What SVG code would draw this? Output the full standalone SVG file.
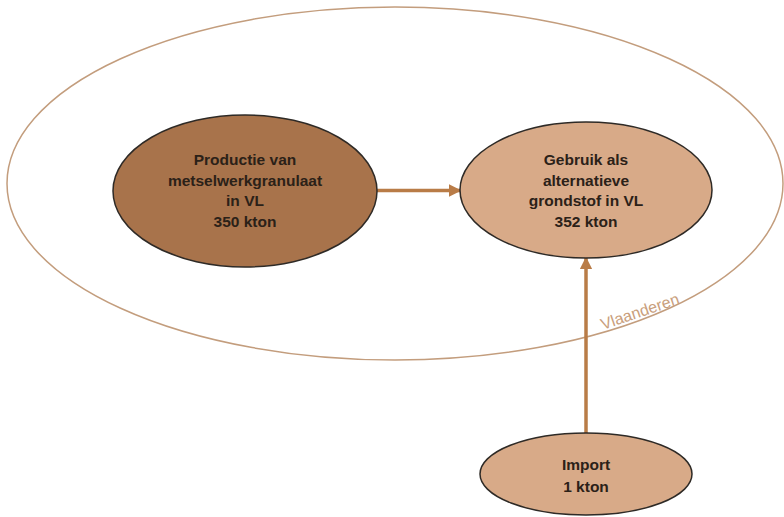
<svg xmlns="http://www.w3.org/2000/svg" width="784" height="517" viewBox="0 0 784 517">
<style>
.node text{font-family:"Liberation Sans",Arial,sans-serif;font-weight:bold;font-size:15.5px;fill:#2b2118;text-anchor:middle}
.lbl{font-family:"Liberation Sans",Arial,sans-serif;font-size:16px;fill:#c99e7c}
.conn line{stroke:#b97c47;stroke-width:3.5;marker-end:url(#ah)}
</style>
<defs>
<marker id="ah" viewBox="0 0 10 10" refX="9" refY="5" markerWidth="3.6" markerHeight="3.6" orient="auto" markerUnits="strokeWidth">
<path d="M0,0 L10,5 L0,10 z" fill="#b97c47"/>
</marker>
</defs>
<rect width="784" height="517" fill="#ffffff"/>
<g id="vlaanderen">
<ellipse cx="395" cy="183.5" rx="388" ry="176.5" fill="none" stroke="#c39d7d" stroke-width="1.5"/>
<text class="lbl" transform="translate(603,330) rotate(-19)">Vlaanderen</text>
</g>
<g class="conn" id="connectors">
<line x1="377" y1="190.5" x2="460" y2="190.5"/>
<line x1="586" y1="433" x2="586" y2="258"/>
</g>
<g class="node" id="productie">
<ellipse cx="245" cy="191" rx="132" ry="76" fill="#a8734b" stroke="#2e2a26" stroke-width="1.5"/>
<text x="245" y="165">Productie van</text>
<text x="245" y="185.5">metselwerkgranulaat</text>
<text x="245" y="206">in VL</text>
<text x="245" y="227">350 kton</text>
</g>
<g class="node" id="gebruik">
<ellipse cx="586" cy="190" rx="126" ry="68" fill="#d8aa88" stroke="#2e2a26" stroke-width="1.5"/>
<text x="586" y="165">Gebruik als</text>
<text x="586" y="185.5">alternatieve</text>
<text x="586" y="206">grondstof in VL</text>
<text x="586" y="227">352 kton</text>
</g>
<g class="node" id="import">
<ellipse cx="586" cy="474" rx="106" ry="41" fill="#d8aa88" stroke="#2e2a26" stroke-width="1.5"/>
<text x="586" y="470">Import</text>
<text x="586" y="492">1 kton</text>
</g>
</svg>
